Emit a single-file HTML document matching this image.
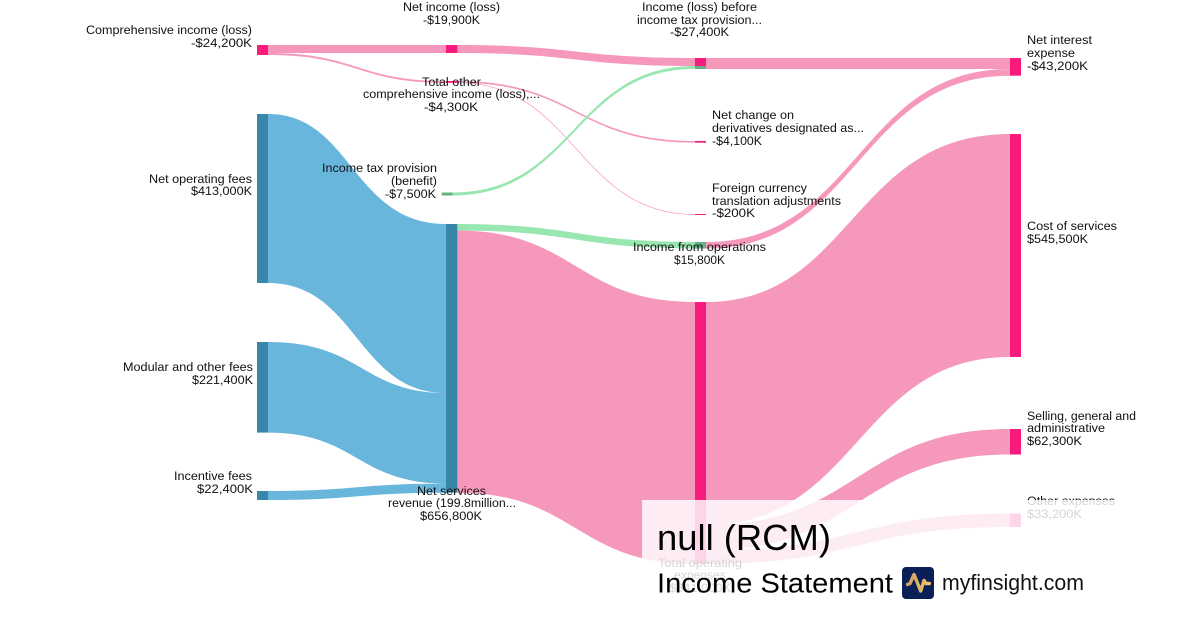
<!DOCTYPE html>
<html><head><meta charset="utf-8"><style>
html,body{margin:0;padding:0;background:#fff;width:1200px;height:630px;overflow:hidden}
svg{display:block}
text{font-family:"Liberation Sans",sans-serif;font-size:12.4px;fill:#111}
</style></head><body>
<svg width="1200" height="630" viewBox="0 0 1200 630" xmlns="http://www.w3.org/2000/svg">
<defs><linearGradient id="g" x1="0" y1="0" x2="1" y2="0"><stop offset="0" stop-color="#cf9f66"/><stop offset="1" stop-color="#f0c465"/></linearGradient></defs>
<!-- links: pink -->
<g fill="#f598bb">
<path d="M268 45H446V53H268Z"/>
<path d="M268 53C357 53 357 81 446 81V82.8C357 82.8 357 55 268 55Z"/>
<path d="M457 45C576 45 576 58 695 58V66C576 66 576 53 457 53Z"/>
<path d="M706 58H1010V69H706Z"/>
<path d="M457 81C576 81 576 141 695 141V142.7C576 142.7 576 82.8 457 82.8Z"/>
<path d="M706 242C858 242 858 69 1010 69V75.7C858 75.7 858 248.5 706 248.5Z"/>
<path d="M457 230.5C576 230.5 576 302 695 302V564C576 564 576 492.7 457 492.7Z"/>
<path d="M706 302C852 302 852 134 1010 134V357C858 357 858 525 706 525Z"/>
<path d="M706 525C858 525 858 429 1010 429V454.5C858 454.5 858 550.5 706 550.5Z"/>
<path d="M706 550.5C858 550.5 858 513.5 1010 513.5V527C858 527 858 564 706 564Z"/>
</g>
<path d="M457 82.7C576 82.7 576 214.5 695 214.5" fill="none" stroke="#f598bb" stroke-width=".7"/>
<!-- links: green -->
<g fill="#98e6b0">
<path d="M452.7 192.5C574 192.5 574 66 695 66V69C574 69 574 195.5 452.7 195.5Z"/>
<path d="M457 224C576 224 576 242 695 242V248.5C576 248.5 576 230.5 457 230.5Z"/>
</g>
<!-- links: blue -->
<g fill="#69b6dc">
<path d="M268 114C352 114 352 224 446 224V393C357 393 357 283 268 283Z"/>
<path d="M268 342C362 342 362 393 446 393V483.6C357 483.6 357 432.6 268 432.6Z"/>
<path d="M268 491C357 491 357 483.6 446 483.6V492.7C357 492.7 357 500 268 500Z"/>
</g>
<!-- nodes -->
<g fill="#3986ab">
<rect x="257" y="114" width="11" height="169"/>
<rect x="257" y="342" width="11" height="90.6"/>
<rect x="257" y="491" width="11" height="9"/>
<rect x="446" y="224" width="11.3" height="268.7"/>
</g>
<g fill="#f71b7e">
<rect x="257" y="45" width="11" height="10"/>
<rect x="446" y="45" width="11.3" height="8"/>
<rect x="446" y="81" width="11.3" height="1.8"/>
<rect x="695" y="58" width="11" height="8"/>
<rect x="695" y="141" width="11" height="1.7"/>
<rect x="695" y="214" width="11" height="1"/>
<rect x="695" y="302" width="11" height="262"/>
<rect x="1010" y="58" width="11" height="17.7"/>
<rect x="1010" y="134" width="11" height="223"/>
<rect x="1010" y="429" width="11" height="25.5"/>
<rect x="1010" y="513.5" width="11" height="13.5"/>
</g>
<g fill="#66b183">
<rect x="441.7" y="192.5" width="11" height="3"/>
<rect x="695" y="66" width="11" height="3"/>
<rect x="695" y="242" width="11" height="6.5"/>
</g>
<!-- labels -->
<text x="86" y="34" textLength="166" lengthAdjust="spacingAndGlyphs">Comprehensive income (loss)</text>
<text x="191" y="47" textLength="61" lengthAdjust="spacingAndGlyphs">-$24,200K</text>
<text x="403" y="11" textLength="97" lengthAdjust="spacingAndGlyphs">Net income (loss)</text>
<text x="423" y="24" textLength="57" lengthAdjust="spacingAndGlyphs">-$19,900K</text>
<text x="642" y="11" textLength="115" lengthAdjust="spacingAndGlyphs">Income (loss) before</text>
<text x="637" y="24" textLength="125" lengthAdjust="spacingAndGlyphs">income tax provision...</text>
<text x="670" y="36" textLength="59" lengthAdjust="spacingAndGlyphs">-$27,400K</text>
<text x="422" y="86" textLength="59" lengthAdjust="spacingAndGlyphs">Total other</text>
<text x="363" y="98" textLength="177" lengthAdjust="spacingAndGlyphs">comprehensive income (loss),...</text>
<text x="424" y="111" textLength="54" lengthAdjust="spacingAndGlyphs">-$4,300K</text>
<text x="322" y="172" textLength="115" lengthAdjust="spacingAndGlyphs">Income tax provision</text>
<text x="391" y="185" textLength="46" lengthAdjust="spacingAndGlyphs">(benefit)</text>
<text x="385" y="198" textLength="51" lengthAdjust="spacingAndGlyphs">-$7,500K</text>
<text x="149" y="183" textLength="103" lengthAdjust="spacingAndGlyphs">Net operating fees</text>
<text x="191" y="195" textLength="61" lengthAdjust="spacingAndGlyphs">$413,000K</text>
<text x="123" y="371" textLength="130" lengthAdjust="spacingAndGlyphs">Modular and other fees</text>
<text x="192" y="384" textLength="61" lengthAdjust="spacingAndGlyphs">$221,400K</text>
<text x="174" y="480" textLength="78" lengthAdjust="spacingAndGlyphs">Incentive fees</text>
<text x="197" y="493" textLength="56" lengthAdjust="spacingAndGlyphs">$22,400K</text>
<text x="417" y="495" textLength="69" lengthAdjust="spacingAndGlyphs">Net services</text>
<text x="388" y="507" textLength="128" lengthAdjust="spacingAndGlyphs">revenue (199.8million...</text>
<text x="420" y="520" textLength="62" lengthAdjust="spacingAndGlyphs">$656,800K</text>
<text x="633" y="251" textLength="133" lengthAdjust="spacingAndGlyphs">Income from operations</text>
<text x="674" y="264" textLength="51" lengthAdjust="spacingAndGlyphs">$15,800K</text>
<text x="712" y="119" textLength="82" lengthAdjust="spacingAndGlyphs">Net change on</text>
<text x="712" y="132" textLength="152" lengthAdjust="spacingAndGlyphs">derivatives designated as...</text>
<text x="712" y="145" textLength="50" lengthAdjust="spacingAndGlyphs">-$4,100K</text>
<text x="712" y="192" textLength="95" lengthAdjust="spacingAndGlyphs">Foreign currency</text>
<text x="712" y="205" textLength="129" lengthAdjust="spacingAndGlyphs">translation adjustments</text>
<text x="712" y="217" textLength="43" lengthAdjust="spacingAndGlyphs">-$200K</text>
<text x="1027" y="44" textLength="65" lengthAdjust="spacingAndGlyphs">Net interest</text>
<text x="1027" y="57" textLength="48" lengthAdjust="spacingAndGlyphs">expense</text>
<text x="1027" y="70" textLength="61" lengthAdjust="spacingAndGlyphs">-$43,200K</text>
<text x="1027" y="230" textLength="90" lengthAdjust="spacingAndGlyphs">Cost of services</text>
<text x="1027" y="243" textLength="61" lengthAdjust="spacingAndGlyphs">$545,500K</text>
<text x="1027" y="420" textLength="109" lengthAdjust="spacingAndGlyphs">Selling, general and</text>
<text x="1027" y="432" textLength="78" lengthAdjust="spacingAndGlyphs">administrative</text>
<text x="1027" y="445" textLength="55" lengthAdjust="spacingAndGlyphs">$62,300K</text>
<text x="1027" y="505" textLength="88" lengthAdjust="spacingAndGlyphs">Other expenses</text>
<text x="1027" y="518" textLength="55" lengthAdjust="spacingAndGlyphs">$33,200K</text>
<text x="658" y="567" textLength="84" lengthAdjust="spacingAndGlyphs">Total operating</text>
<text x="674" y="579" textLength="52" lengthAdjust="spacingAndGlyphs">expenses</text>
<text x="669" y="592" textLength="62" lengthAdjust="spacingAndGlyphs">$641,000K</text>
<!-- overlay -->
<rect x="642" y="500" width="558" height="130" fill="#fff" fill-opacity=".82"/>
<text x="657" y="550" style="font-size:36px;fill:#000" textLength="174" lengthAdjust="spacingAndGlyphs">null (RCM)</text>
<text x="657" y="592.5" style="font-size:28px;fill:#000" textLength="236" lengthAdjust="spacingAndGlyphs">Income Statement</text>
<rect x="902" y="567" width="32" height="32" rx="4" fill="#0a1f56"/>
<path d="M907.5 584.5L910 583.5L914 574.5L920.7 591L924 580.5L926 583.5H929.3" fill="none" stroke="url(#g)" stroke-width="3.4" stroke-linecap="round" stroke-linejoin="round"/>
<text x="942" y="590" style="font-size:22px;fill:#111" textLength="142" lengthAdjust="spacingAndGlyphs">myfinsight.com</text>
</svg>
</body></html>
